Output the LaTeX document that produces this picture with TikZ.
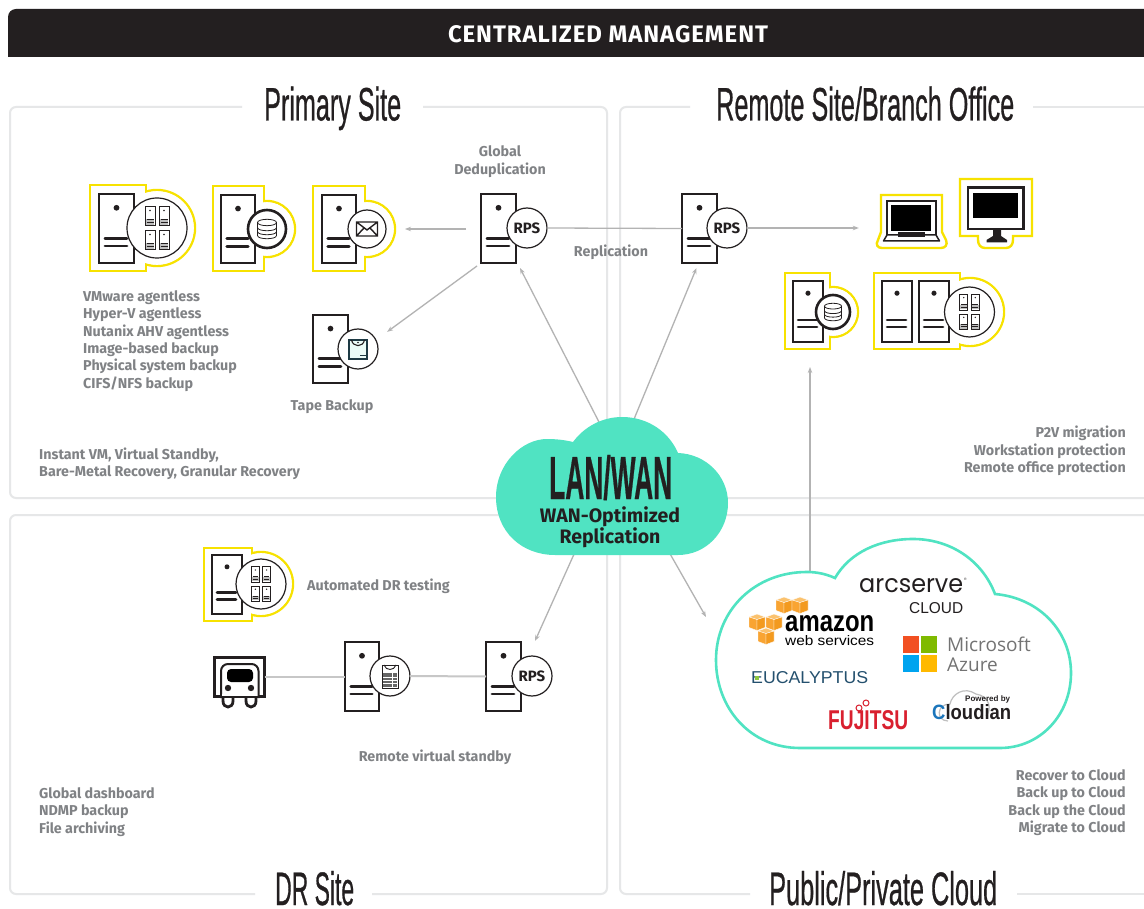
\documentclass[tikz,border=0pt]{standalone}
\usepackage{fontspec}
\usepackage{graphicx}
\setmainfont{Fira Sans}
\newfontfamily\lib{Liberation Sans}
\newfontfamily\libf[FakeBold=0.8]{Liberation Sans}
\newfontfamily\pop{Poppins}
\newfontfamily\ops{Open Sans}
\usetikzlibrary{calc,arrows.meta}
\definecolor{ink}{HTML}{231F20}
\definecolor{lbl}{HTML}{808285}
\definecolor{frm}{HTML}{E6E7E8}
\definecolor{yel}{HTML}{F7E200}
\definecolor{teal}{HTML}{50E3C2}
\definecolor{conn}{HTML}{B3B3B3}
\definecolor{amzt}{HTML}{FBC26E}
\definecolor{amzl}{HTML}{F9A432}
\definecolor{amzr}{HTML}{F39A1F}
\definecolor{msr}{HTML}{F25022}
\definecolor{msg}{HTML}{7FBA00}
\definecolor{msb}{HTML}{00A4EF}
\definecolor{msy}{HTML}{FFB900}
\definecolor{msw}{HTML}{737373}
\definecolor{euc}{HTML}{24506E}
\definecolor{eug}{HTML}{8CC63F}
\definecolor{fuj}{HTML}{D9202F}
\definecolor{cldb}{HTML}{1B75BB}
\definecolor{tapk}{HTML}{1D3A44}
\newcommand\fitt[3]{\resizebox{#1pt}{#2pt}{#3}}
\newcommand\ybody[7]{%
  \draw[yelline] (#1,#2) rectangle (#3,#4);
  \draw[yelline] (#5,#6) circle[radius=#7];
  \fill[white] ({#1+1.2},{#2+1.2}) rectangle ({#3-1.2},{#4-1.2});
  \fill[white] (#5,#6) circle[radius={#7-1.2}];}
% name cx cy w h
\newcommand\srv[5]{%
  \node[srvbox,minimum width=#4pt,minimum height=#5pt] (#1) at (#2,#3) {};
  \fill[ink] (#2,{#3-0.3*#5}) circle[radius={0.042*#5}];
  \draw[bar] ({#2-0.33*#4},{#3+0.14*#5}) -- ({#2+0.3*#4},{#3+0.14*#5});
  \draw[bar] ({#2-0.33*#4},{#3+0.255*#5}) -- ({#2+0.3*#4},{#3+0.255*#5});}
% name cx cy r style text
\newcommand\badge[6]{\node[#5,minimum size={2*#4*1pt}] (#1) at (#2,#3) {#6};}
% mini server: cx cy scale
\newcommand\minisrv[3]{%
  \begin{scope}[shift={(#1,#2)},scale=#3]
    \fill[black!25] (-4.2,3) rectangle (4.2,8.6);
    \draw[ink,line width=0.8pt] (-5,-9.5) rectangle (5,9.5);
    \fill[ink] (0,-5.5) circle[radius=0.9];
    \draw[ink,line width=0.9pt] (-3.5,3) -- (3.5,3) (-3.5,6) -- (3.5,6);
  \end{scope}}
\newcommand\fourminis[3]{%
  \minisrv{#1-7*#3}{#2-12*#3}{#3}\minisrv{#1+7*#3}{#2-12*#3}{#3}%
  \minisrv{#1-7*#3}{#2+12*#3}{#3}\minisrv{#1+7*#3}{#2+12*#3}{#3}}
\newcommand\dbicon[3]{%
  \begin{scope}[shift={(#1,#2)},scale=#3,ink,line width=0.8pt]
    \draw (-9.5,-6.5) -- (-9.5,6.5) .. controls (-9.5,10.8) and (9.5,10.8) .. (9.5,6.5) -- (9.5,-6.5);
    \draw (0,-6.5) ellipse[x radius=9.5,y radius=3.2];
    \draw (-9.5,-1.5) .. controls (-9.5,2.8) and (9.5,2.8) .. (9.5,-1.5);
    \draw (-9.5,2.5) .. controls (-9.5,6.8) and (9.5,6.8) .. (9.5,2.5);
  \end{scope}}
\newcommand\cube[2]{%
  \begin{scope}[shift={(#1,#2)},draw=white,line width=0.35pt]
    \filldraw[fill=amzt] (-8,-5) -- (0,-8) -- (8,-5) -- (0,-2.5) -- cycle;
    \filldraw[fill=amzl] (-8,-5) -- (0,-2.5) -- (0,8.5) -- (-8,5.5) -- cycle;
    \filldraw[fill=amzr] (8,-5) -- (0,-2.5) -- (0,8.5) -- (8,5.5) -- cycle;
  \end{scope}}
\tikzset{
  x=1pt,y=-1pt,
  yelline/.style={draw=yel,line width=2.4pt,fill=white},
  srvbox/.style={draw=ink,line width=2.6pt,fill=white,inner sep=0pt,outer sep=0pt,rectangle},
  bar/.style={ink,line width=2.8pt,line cap=round},
  thinbadge/.style={circle,draw=ink,line width=1.2pt,fill=white,inner sep=0pt,outer sep=0pt,font=\fontsize{15}{15}\selectfont\bfseries\color{ink}},
  thickbadge/.style={thinbadge,line width=2.6pt},
  frame/.style={draw=frm,line width=2pt,rounded corners=6pt},
  arr/.style={draw=conn,line width=1.3pt,-{Stealth[length=6pt,width=4.5pt]}},
  plain/.style={draw=conn,line width=1.3pt},
  link/.style={draw=black!22,line width=2pt},
  lab/.style={inner sep=0pt,text=lbl,font=\fontsize{14.3}{17.4}\selectfont\bfseries},
  ttl/.style={inner sep=0pt,text=ink,font=\libf},
  logo/.style={inner sep=0pt,font=\lib},
}
\begin{document}
\begin{tikzpicture}
\useasboundingbox (0,0) rectangle (1144,909);
\clip (0,0) rectangle (1144,909);
\fill[white] (0,0) rectangle (1144,909);
% header
\fill[ink,rounded corners=8pt] (8,9) -- (1160,9) -- (1160,80) -- (8,80) -- cycle;
\fill[white] (0,57.5) rectangle (1144,90);
\node[inner sep=0pt,text=white] (head) at (608,34) {\resizebox{320pt}{!}{\addfontfeature{LetterSpace=4}\fontsize{20}{20}\selectfont\bfseries CENTRALIZED MANAGEMENT}};
% frames
\draw[frame] (242,107) -- (10,107) -- (10,498) -- (607,498) -- (607,107) -- (423,107);
\draw[frame] (690,107) -- (620,107) -- (620,498) -- (1160,498);
\draw[frame] (1033,107) -- (1160,107);
\draw[frame] (255,894) -- (10,894) -- (10,515) -- (607,515) -- (607,894) -- (372,894);
\draw[frame] (750,894) -- (620,894) -- (620,515) -- (1160,515);
\draw[frame] (1017,894) -- (1160,894);
% titles
\node[ttl,anchor=base west] (t1) at (264,120.5) {\fitt{137}{34}{Primary Site}};
\node[ttl,anchor=base west] (t2) at (716,120.5) {\fitt{298}{34}{Remote Site/Branch Office}};
\node[ttl,anchor=base west] (t3) at (275,905) {\fitt{79}{34}{DR Site}};
\node[ttl,anchor=base west] (t4) at (769,905) {\fitt{228}{34}{Public/Private Cloud}};
% primary site icons
\ybody{90}{185}{146}{271}{157}{228}{38}
\srv{vm}{116.5}{228.5}{35}{69}
\badge{vm-b}{157}{228}{30}{thinbadge}{}
\fourminis{157}{228}{1}
\ybody{213}{186}{264}{271}{267}{229}{28}
\srv{db}{238}{229}{34}{68}
\badge{db-b}{267}{229}{19}{thickbadge}{}
\dbicon{267}{229}{1}
\ybody{313}{186}{365}{271}{367}{229}{28}
\srv{mail}{339}{229}{34}{68}
\badge{mail-b}{367}{229}{19}{thinbadge}{}
\draw[ink,line width=1.4pt] (356.5,222) rectangle (377.5,236) (356.5,222) -- (367,230) -- (377.5,222) (356.5,236) -- (364,228) (377.5,236) -- (370,228);
\srv{tape}{330.5}{349}{35}{68}
\badge{tape-b}{358}{349}{20}{thinbadge}{}
\fill[teal!12!white] (349,340) rectangle (367,359);
\draw[tapk,line width=1.3pt] (349,340) rectangle (367,359);
\draw[ink,line width=1.1pt] (351.5,340) .. controls (353,347.5) and (363,347.5) .. (364.5,340);
\draw[tapk,line width=0.9pt] (360,355.5) -- (367,355.5);
\fill[ink] (358,342.5) circle[radius=0.9];
\srv{rps1}{498.5}{228.5}{35}{69}
\badge{rps1-b}{527}{228}{20}{thinbadge}{RPS}
\srv{rps2}{699.5}{228.5}{35}{69}
\badge{rps2-b}{727}{228}{20}{thinbadge}{RPS}
% laptop
\fill[white,draw=yel,line width=2.4pt] (881,195) -- (942,195) -- (942,232) -- (946,240) .. controls (948,245) and (945,248) .. (941,248) -- (882,248) .. controls (878,248) and (875,245) .. (878,240) -- (881,232) -- cycle;
\draw[ink,line width=1.8pt,fill=white] (887,201) rectangle (936,235);
\fill[black] (891,205) rectangle (931,231);
\draw[ink,line width=1.5pt,fill=white,line join=round] (887,235) -- (936,235) -- (939.5,241) -- (883.5,241) -- cycle;
\fill[ink] (898,232.5) rectangle (925,237);
\node[inner sep=0pt,minimum width=69pt,minimum height=53pt] (laptop) at (911.5,221.5) {};
% monitor
\fill[white,draw=yel,line width=2.4pt] (960,179) -- (1032,179) -- (1032,236) -- (1013,236) -- (1013,240) .. controls (1013,245) and (1010,248) .. (1006,248) -- (985,248) .. controls (981,248) and (978,245) .. (978,240) -- (978,236) -- (960,236) -- cycle;
\draw[ink,line width=2.2pt,fill=white] (968,187.5) rectangle (1023.5,229);
\fill[black] (973,193) rectangle (1018,218);
\fill[ink] (993,229) -- (1001,229) -- (1001,236) -- (1007,240) -- (1007,242.5) -- (986.5,242.5) -- (986.5,240) -- (993,236) -- cycle;
\node[inner sep=0pt,minimum width=72pt,minimum height=69pt] (monitor) at (996,213.5) {};
% remote servers
\ybody{785}{273}{830}{349}{833}{312}{25}
\srv{rdb}{808}{311.5}{30}{61}
\badge{rdb-b}{833}{312}{17}{thickbadge}{}
\dbicon{833}{312}{0.9}
\ybody{874}{273}{960}{349}{970}{312}{34}
\srv{rvm1}{897}{311.5}{30}{61}
\srv{rvm2}{934}{311.5}{30}{61}
\badge{rvm-b}{969.5}{312}{25}{thinbadge}{}
\fourminis{969.5}{312}{0.82}
% DR
\ybody{204}{548}{252}{621}{261}{584}{32}
\srv{dr1}{227}{584.5}{30}{59}
\badge{dr1-b}{261}{584}{25}{thinbadge}{}
\fourminis{261}{584}{0.8}
\node[lab,anchor=west] (tdr) at (307,586.5) {Automated DR testing};
% truck
\node[srvbox,line width=3pt,minimum width=50pt,minimum height=39pt] (truck) at (239.5,676.5) {};
\draw[ink,line width=2pt,fill=white,rounded corners=7pt] (221,698) -- (221,664) -- (258.5,664) -- (258.5,698);
\fill[white] (222.2,694) rectangle (257.3,698);
\draw[ink,line width=2pt] (219,697) -- (260.5,697);
\fill[black,rounded corners=4pt] (227,669) rectangle (253,682);
\fill[ink] (228,688) circle[radius=3.2] (251,688) circle[radius=3.2];
\draw[ink,line width=2.8pt] (223,698) -- (223,701) .. controls (223,709) and (233,709) .. (233,701) -- (233,698);
\draw[ink,line width=2.8pt] (246,698) -- (246,701) .. controls (246,709) and (256,709) .. (256,701) -- (256,698);
\srv{drv}{362}{676.5}{34}{69}
\badge{drv-b}{390}{676}{20}{thinbadge}{}
\draw[ink,line width=1pt,fill=white] (382,665) rectangle (398,688);
\fill[black!60] (383,673) rectangle (397,687);
\draw[white,line width=0.8pt] (383,677) -- (397,677) (383,680) -- (397,680) (383,683) -- (397,683) (392,673) -- (392,687);
\draw[ink,line width=0.9pt] (384,665) .. controls (386,671) and (394,671) .. (396,665);
\srv{rps3}{503.5}{676.5}{35}{69}
\badge{rps3-b}{532}{676}{20}{thinbadge}{RPS}
\draw[link] (truck.east) -- (drv.west);
\draw[link] (drv-b.east) -- (rps3.west);
% connectors
\coordinate (lan1) at (600,424);
\coordinate (lan2) at (632,424);
\coordinate (lan3) at (575,552);
\coordinate (lan4) at (669,552);
\coordinate (pub1) at (810,573);
\coordinate (pub2) at (706,617);
\draw[plain] (rps1-b.east) -- (rps2.west);
\draw[arr] (rps2-b.east) -- ($(laptop.west)+(-18,6.5)$);
\draw[arr] ($(rps1.west)+(-15,0.5)$) -- ($(mail-b.east)+(19,0)$);
\draw[arr] ($(rps1.south west)+(-4,3)$) -- ($(tape-b.north east)+(15,-3)$);
\draw[arr] (lan1) -- ($(rps1.south east)+(4,5)$);
\draw[arr] (lan2) -- ($(rps2.south)+(-3,5)$);
\draw[arr] (lan3) -- ($(rps3.north east)+(14,-1)$);
\draw[arr] (lan4) -- (pub2);
\draw[arr] (pub1) -- ($(rdb.south)+(2,25)$);
% LAN/WAN cloud
\fill[teal] (573,442) .. controls (584,427) and (602,417) .. (622,417) .. controls (648,417) and (669,432) .. (678,453) .. controls (706,454) and (728,476) .. (728,503) .. controls (728,532) and (706,555) .. (678,555) -- (555,555) .. controls (522,555) and (496,532) .. (496,497) .. controls (496,464) and (522,439) .. (547,439) .. controls (556,439) and (565,440) .. (573,442) -- cycle;
\node[ttl,anchor=base west] (lan) at (549,499) {\fitt{123}{44}{\bfseries LAN/WAN}};
\node[inner sep=0pt,text=ink,align=center,font=\fontsize{19.5}{19}\selectfont\bfseries] (wan) at (610,527) {WAN-Optimized\\Replication};
% public cloud
\draw[teal,line width=2.6pt,fill=white] (835,578) .. controls (850,552) and (880,539) .. (913,539) .. controls (950,539) and (982,560) .. (995,594) .. controls (1040,598) and (1071,632) .. (1071,673) .. controls (1071,715) and (1040,748) .. (1000,748) -- (800,748) .. controls (750,748) and (716,708) .. (716,660) .. controls (716,610) and (755,572) .. (807,572) .. controls (817,572) and (826,574) .. (835,578) -- cycle;
% logos
\node[logo,anchor=base west,text=ink] (arc) at (859,592) {\fitt{104}{14}{\pop arcserve}};
\node[logo,anchor=base west,text=ink,font=\lib\fontsize{3.5}{4}\selectfont] (arcr) at (964,580) {®};
\node[logo,anchor=base west,text=ink] (arcc) at (909,613) {\fitt{54}{11}{CLOUD}};
\cube{784}{605}\cube{800}{605}\cube{757}{622}\cube{774}{622}\cube{766}{636}
\node[logo,anchor=base west,text=black] (amz) at (785,631) {\fitt{89}{16}{\bfseries amazon}};
\node[logo,anchor=base west,text=black] (aws) at (785,645) {\fitt{89}{10}{web services}};
\fill[msr] (903,636) rectangle (919,653);
\fill[msg] (921,636) rectangle (937,653);
\fill[msb] (903,655) rectangle (919,672);
\fill[msy] (921,655) rectangle (937,672);
\node[logo,anchor=base west,text=msw,font=\ops\fontsize{19}{20}\selectfont] (ms) at (947,651) {Microsoft};
\node[logo,anchor=base west,text=msw,font=\ops\fontsize{19}{20}\selectfont] (az) at (947,671) {Azure};
\node[logo,anchor=base west,text=euc] (euc1) at (751,683) {\fitt{117}{12}{EUCALYPTUS}};
\fill[eug] (754.5,675.5) rectangle (759,680);
\node[logo,anchor=base west,text=fuj] (fuj1) at (828,729) {\fitt{80}{19}{\bfseries FUJITSU}};
\draw[fuj,line width=1pt] (859,708) circle[radius=3] (866,703) circle[radius=3];
\draw[black!25,line width=1.2pt] (948,721) .. controls (936,721) and (936,704) .. (950,704) .. controls (952,694) and (964,686) .. (976,694) .. controls (990,696) and (992,710) .. (986,716);
\node[logo,anchor=base west,text=ink,font=\lib\bfseries\fontsize{8}{8}\selectfont] (pow) at (965,701) {Powered by};
\node[logo,anchor=base west,text=ink] (cld) at (932,719) {\fitt{79}{15}{\bfseries\textcolor{cldb}{C}loudian}};
% labels
\node[lab,align=center] (l1) at (500,161.5) {Global\\Deduplication};
\node[lab] (l2) at (611,252.5) {Replication};
\node[lab,align=left,anchor=west] (l3) at (83,341) {VMware agentless\\Hyper-V agentless\\Nutanix AHV agentless\\Image-based backup\\Physical system backup\\CIFS/NFS backup};
\node[lab] (l4) at (332,406.5) {Tape Backup};
\node[lab,align=left,anchor=west] (l5) at (39,464) {Instant VM, Virtual Standby,\\Bare-Metal Recovery, Granular Recovery};
\node[lab,align=right,anchor=east] (l6) at (1126,451) {P2V migration\\Workstation protection\\Remote office protection};
\node[lab] (l7) at (435,757.5) {Remote virtual standby};
\node[lab,align=left,anchor=west] (l8) at (39,812) {Global dashboard\\NDMP backup\\File archiving};
\node[lab,align=right,anchor=east] (l9) at (1126,802.5) {Recover to Cloud\\Back up to Cloud\\Back up the Cloud\\Migrate to Cloud};
\end{tikzpicture}
\end{document}
